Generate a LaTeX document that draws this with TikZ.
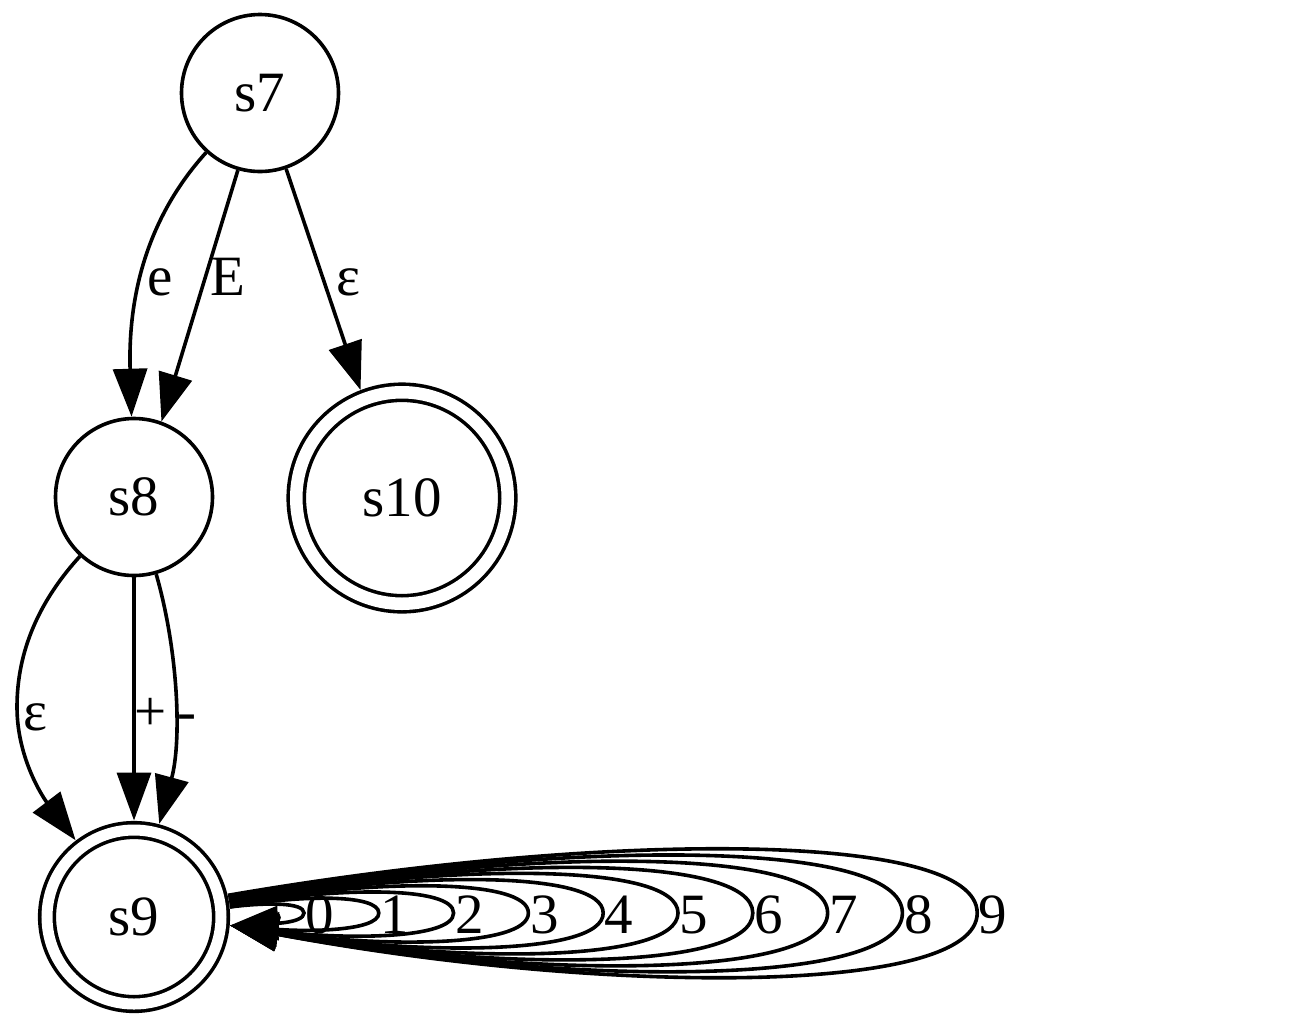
\documentclass[tikz,border=0pt]{standalone}
\usepackage{fontspec}
\setmainfont{Liberation Serif}
\usetikzlibrary{arrows.meta}
\begin{document}
\begin{tikzpicture}[x=1pt, y=-1pt, line width=3.6pt,
    state/.style={draw, circle, inner sep=0pt, minimum size=157pt},
    accept/.style={draw, circle, double, inner sep=0pt},
    edge/.style={-{Triangle[length=48pt,width=34pt]}},
    lbl/.style={anchor=base, inner sep=0pt},
    every node/.style={font=\fontsize{57}{68}\selectfont}]
  \useasboundingbox (0,0) rectangle (1289,1029);
  % states
  \node[state] (s7) at (260,93) {s7};
  \node[state] (s8) at (134,497) {s8};
  \node[accept, minimum size=211.5pt, double distance=12.5pt, outer sep=10pt] (s10) at (402,498) {s10};
  \node[accept, minimum size=174pt, double distance=11pt, outer sep=9.5pt] (s9) at (134,917) {s9};
  % transitions out of s7
  \draw[edge] (s7) .. controls (145,220) and (128,300) .. (s8);
  \node[lbl] (le) at (160,295) {e};
  \draw[edge] (s7.-106) -- (s8.70);
  \node[lbl] (lE) at (228,295) {E};
  \draw[edge] (s7.-71) -- (s10.111);
  \node[lbl] (leps1) at (348,295) {ε};
  % transitions out of s8
  \draw[edge] (s8) .. controls (40,600) and (17,650) .. (17,707)
    .. controls (17,760) and (45,800) .. (s9);
  \node[lbl] (leps2) at (35,730) {ε};
  \draw[edge] (s8) -- (s9);
  \node[lbl] (lplus) at (151,730) {+};
  \draw[edge] (s8) .. controls (178,650) and (182,740) .. (s9);
  \node[lbl] (lminus) at (187,730) {-};
  % digit loops on s9
  \foreach \i in {0,...,9} {
    \pgfmathsetmacro{\R}{304+74.8*\i}
    \pgfmathsetmacro{\h}{8+6*\i}
    \pgfmathsetmacro{\M}{230+0.5*(\R-230)}
    \pgfmathsetmacro{\T}{913-1.33*\h}
    \pgfmathsetmacro{\B}{913+1.33*\h}
    \pgfmathsetmacro{\a}{6+0.8*\i}
    \draw[edge] (s9.\a) .. controls (\M,\T) and (\R,\T) .. (\R,913)
      .. controls (\R,\B) and (\M,\B) .. (s9.-5);
    \node[lbl] (d\i) at (\R+16,933) {\i};
  }
\end{tikzpicture}
\end{document}
